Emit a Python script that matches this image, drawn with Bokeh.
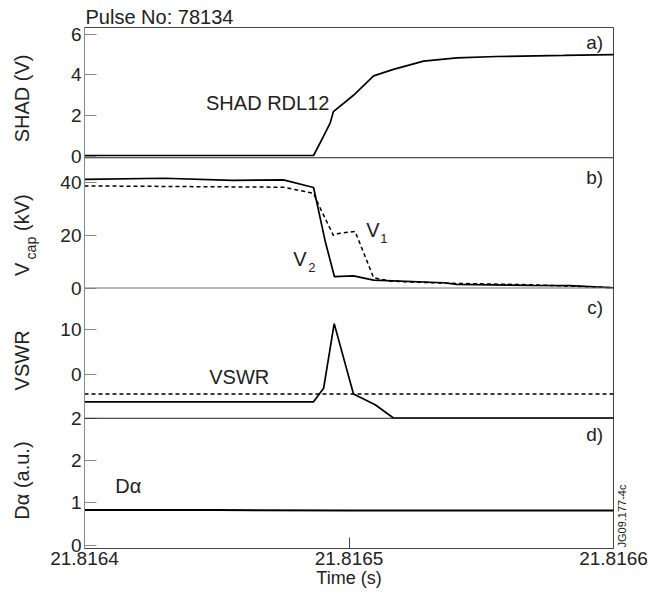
import math
from bokeh.plotting import figure
from bokeh.layouts import row
from bokeh.models import Range1d, FixedTicker, PrintfTickFormatter, Label, Span, LinearAxis
from bokeh.core.properties import value
from bokeh.embed import file_html
from bokeh.resources import INLINE

# ---------------- data ----------------
x_ticks = [21.8164, 21.8165, 21.8166]

# a) SHAD RDL12 (V)
t_shad = [21.8164, 21.8164866, 21.8164902, 21.8164929, 21.8164941, 21.8165017,
          21.8165093, 21.8165168, 21.8165282, 21.8165408, 21.8165559, 21.8165811, 21.8166]
shad = [0.05, 0.05, 0.95, 1.65, 2.2, 3.0, 3.95, 4.27, 4.67, 4.83, 4.90, 4.95, 4.99]

# b) V2 (solid) and V1 (dashed), kV
t_v2 = [21.8164, 21.8164300, 21.8164560, 21.8164752, 21.8164866, 21.8164910, 21.8164945,
        21.8165017, 21.8165093, 21.8165357, 21.8165408, 21.8165685, 21.8165836, 21.8166]
v2 = [41.3, 41.7, 40.9, 41.1, 38.2, 17.8, 4.3, 4.6, 3.0, 2.0, 1.4, 1.0, 0.9, 0.1]
t_v1 = [21.8164, 21.8164752, 21.8164866, 21.8164885, 21.8164941, 21.8164960, 21.8165023,
        21.8165093, 21.8165156, 21.8165370, 21.8165685, 21.8166]
v1 = [38.8, 38.3, 36.0, 31.6, 20.0, 20.7, 21.5, 3.9, 2.6, 1.8, 1.25, 0.1]

# c) VSWR (solid) and VSWR trip level (dashed)
t_vswr = [21.8164, 21.8164866, 21.8164904, 21.8164944, 21.8165017, 21.8165099, 21.8165168, 21.8166]
vswr = [-5.95, -5.95, -2.95, 11.4, -4.2, -6.6, -9.55, -9.55]
t_trip = [21.8164, 21.8166]
trip = [-4.2, -4.2]

# d) D-alpha (a.u.)
t_da = [21.8164, 21.8164500, 21.8165000, 21.8165500, 21.8166]
da = [0.83, 0.83, 0.82, 0.82, 0.82]

# panel value ranges and tick labels
panel_names = ["a", "b", "c", "d"]
panel_lo = [-0.06, 0.0, -9.6, -0.08]
panel_hi = [6.32, 49.5, 19.3, 3.0]
panel_tick_values = [[0, 2, 4, 6], [0, 20, 40], [0, 10], [0, 1, 2, 3]]
panel_tick_labels = [["0", "2", "4", "6"], ["0", "20", "40"], ["0", "10"], ["0", "1", "2", "2"]]

# ---------------- layout helpers (reference page pixels) ----------------
X0, X1 = x_ticks[0], x_ticks[-1]
FL, FR, FT, FB = 84.3, 613.3, 27.0, 556.0
NP = 4

def tx(px):
    return X0 + (px - FL) / (FR - FL) * (X1 - X0)

def ty(py):
    return NP - (py - FT) / (FB - FT) * NP

FONT = "Liberation Sans"
TXT = "#222222"
W, H = 651, 594
LEFT_W = 44
TOP_B, BOT_B = 27, 46

p = figure(width=W - LEFT_W, height=H, output_backend="svg", toolbar_location=None,
           x_range=Range1d(X0, X1), y_range=Range1d(0, NP),
           min_border_left=84 - LEFT_W, min_border_right=38,
           min_border_top=TOP_B, min_border_bottom=BOT_B)
p.grid.visible = False
p.outline_line_color = "#444444"
p.background_fill_color = "white"
p.border_fill_color = "white"

p.title.text = "Pulse No: 78134"
p.title.align = "left"
p.title.text_font = FONT
p.title.text_font_size = "20px"
p.title.text_font_style = "normal"
p.title.text_color = TXT
p.title.standoff = 0
p.title.offset = 1

# extra ranges: each panel occupies one band of the frame
extra = {}
tick_pos = []
overrides = {}
for i, name in enumerate(panel_names):
    base = NP - 1 - i
    lo, hi = panel_lo[i], panel_hi[i]
    span = hi - lo
    extra[name] = Range1d(lo - base * span, hi + (NP - 1 - base) * span)
    for v, lab in zip(panel_tick_values[i], panel_tick_labels[i]):
        pos = base + (v - lo) / span
        tick_pos.append(pos)
        overrides[pos] = lab
p.extra_y_ranges = extra

# y axis (shared, per-panel ticks)
ya = p.yaxis[0]
ya.ticker = FixedTicker(ticks=tick_pos)
ya.major_label_overrides = overrides
ya.major_tick_in = 12
ya.major_tick_out = 0
ya.minor_tick_line_color = None
ya.axis_line_color = "#888888"
ya.major_tick_line_color = "#888888"
ya.major_label_standoff = 3
ya.major_label_text_font = FONT
ya.major_label_text_font_size = "19px"
ya.major_label_text_color = TXT

# x axis
xa = p.xaxis[0]
xa.ticker = FixedTicker(ticks=x_ticks)
xa.formatter = PrintfTickFormatter(format="%.4f")
xa.major_tick_in = 11
xa.major_tick_out = 0
xa.minor_tick_line_color = None
xa.axis_line_color = "#444444"
xa.major_tick_line_color = "#444444"
xa.major_label_standoff = 3
xa.major_label_text_font = FONT
xa.major_label_text_font_size = "19px"
xa.major_label_text_color = TXT
xa.axis_label = "Time (s)"
xa.axis_label_standoff = 0
xa.axis_label_text_font = FONT
xa.axis_label_text_font_size = "18px"
xa.axis_label_text_font_style = "normal"
xa.axis_label_text_color = TXT

# figure code at the right edge, as a label-only axis
jg_pos = ty(555)
ra = LinearAxis(ticker=FixedTicker(ticks=[jg_pos]), major_label_overrides={jg_pos: "JG09.177-4c"})
ra.axis_line_color = None
ra.major_tick_line_color = None
ra.minor_tick_line_color = None
ra.major_label_orientation = math.pi / 2
ra.major_label_standoff = 3
ra.major_label_text_font = FONT
ra.major_label_text_font_size = "11px"
ra.major_label_text_color = TXT
p.add_layout(ra, "right")

# panel separators
for k, col in zip([3, 2, 1], ["#222222", "#777777", "#222222"]):
    p.add_layout(Span(location=k, dimension="width", line_color=col, line_width=1.2))

# data lines
p.line(t_shad, shad, y_range_name="a", line_color="black", line_width=1.7)
p.line(t_v2, v2, y_range_name="b", line_color="black", line_width=1.7)
p.line(t_v1, v1, y_range_name="b", line_color="black", line_width=1.5, line_dash="4 3")
p.line(t_vswr, vswr, y_range_name="c", line_color="black", line_width=1.7)
p.line(t_trip, trip, y_range_name="c", line_color="black", line_width=1.5, line_dash="4 3")
p.line(t_da, da, y_range_name="d", line_color="black", line_width=2.0)

def lab(text, px, py, size="20px", align="left"):
    p.add_layout(Label(x=tx(px), y=ty(py), text=text, text_font=FONT, text_font_size=size,
                       text_color=TXT, text_align=align, text_baseline="middle"))

lab("SHAD RDL12", 267.5, 103.5, align="center")
for t, py in zip(["a)", "b)", "c)", "d)"], [42.5, 179.5, 311.5, 440.5]):
    lab(t, 603, py, size="19px", align="right")
lab("V", 366, 232.5)
lab("1", 380, 241, size="13px")
lab("V", 293, 262)
lab("2", 308, 270.5, size="13px")
lab("VSWR", 239, 381.5, align="center")
lab("D\u03b1", 115, 493)

# ---------------- left strip with the rotated panel titles ----------------
q = figure(width=LEFT_W, height=H, output_backend="svg", toolbar_location=None,
           x_range=Range1d(0, LEFT_W), y_range=Range1d(0, NP),
           x_axis_location=None, y_axis_location=None,
           min_border_left=0, min_border_right=0, min_border_top=TOP_B, min_border_bottom=BOT_B)
q.grid.visible = False
q.outline_line_color = None
q.background_fill_color = "white"
q.border_fill_color = "white"

title_text = ["SHAD (V)", "V", "cap", "(kV)", "VSWR", "D\u03b1 (a.u.)"]
title_px = [21, 21, 30, 21, 21, 21]
title_py = [99, 272.5, 251, 215, 365, 487]
title_size = ["20px", "20px", "14px", "20px", "20px", "20px"]
for t, x_, y_, s in zip(title_text, title_px, title_py, title_size):
    q.text(x=[x_], y=[ty(y_)], text=[t], angle=math.pi / 2, text_font=value(FONT),
           text_font_size=s, text_color=TXT, text_align="center", text_baseline="middle")

layout = row(q, p)
open("out.html", "w").write(file_html(layout, INLINE))
